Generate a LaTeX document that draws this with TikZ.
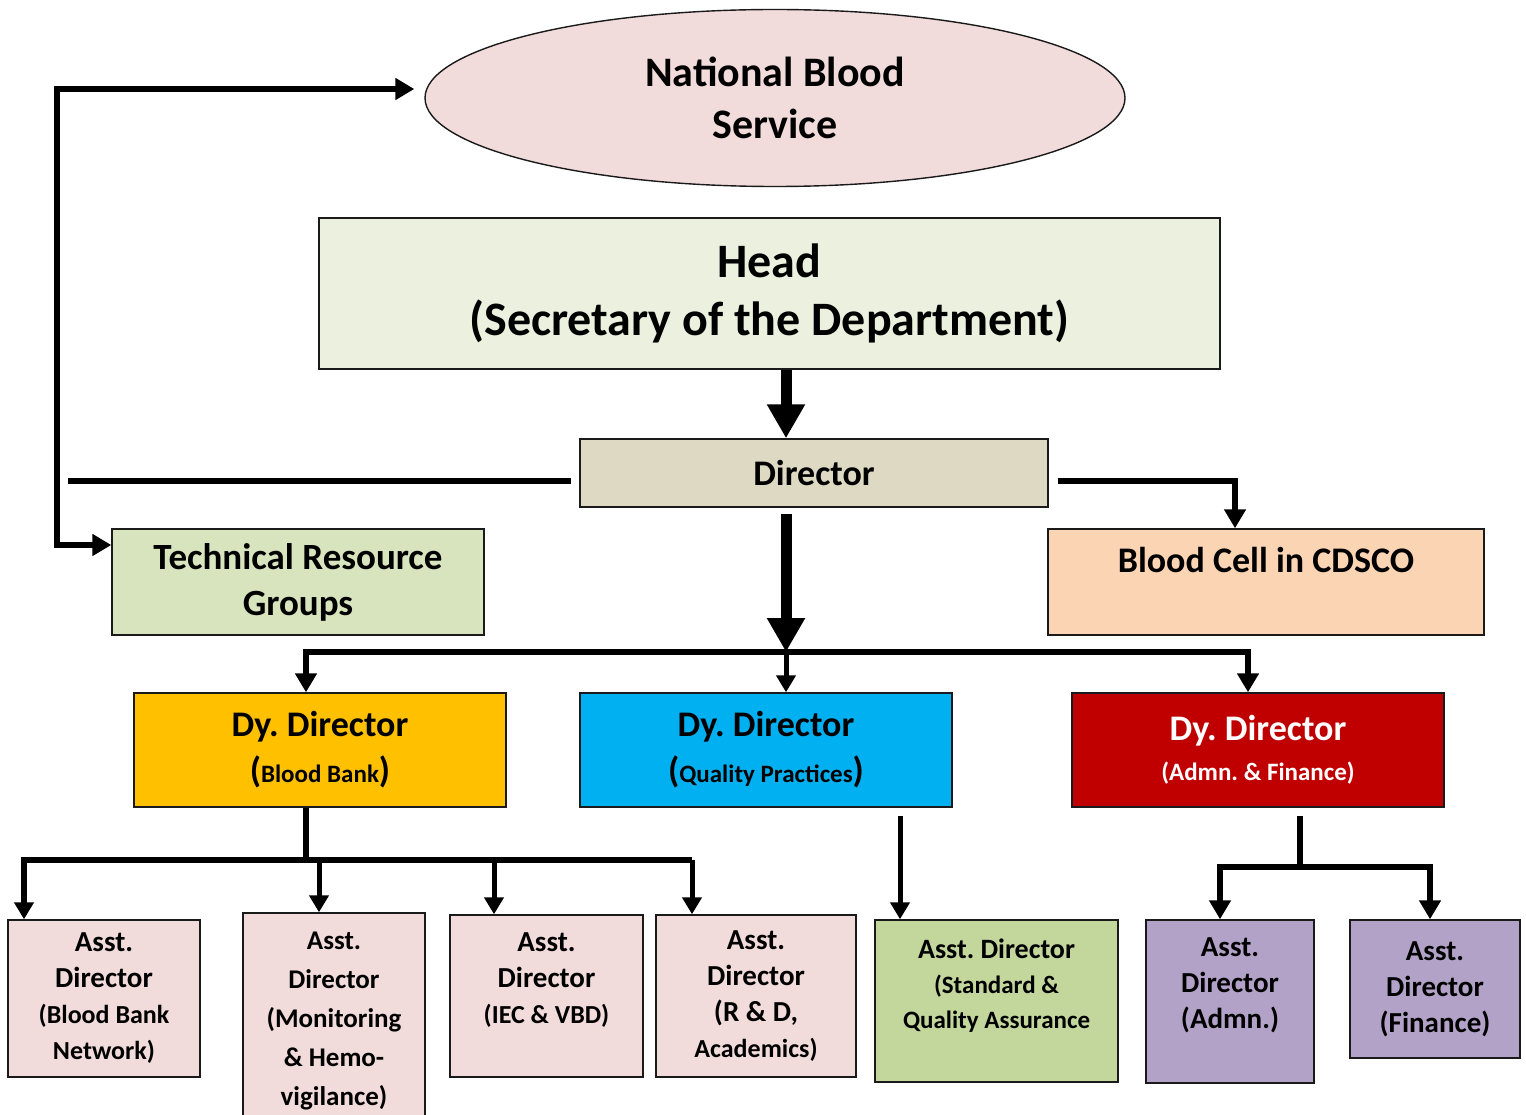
\documentclass[tikz,border=0pt]{standalone}
\usepackage{fontspec}
\setmainfont{Carlito}
\usetikzlibrary{shapes.geometric, arrows.meta}
\definecolor{jet}{HTML}{1A1A1A}
\definecolor{nbs-pink}{HTML}{F2DCDB}
\definecolor{head-green}{HTML}{EBF1DE}
\definecolor{dir-beige}{HTML}{DDD9C3}
\definecolor{trg-green}{HTML}{D7E4BD}
\definecolor{cell-peach}{HTML}{FBD4B4}
\definecolor{dy-amber}{HTML}{FFC000}
\definecolor{dy-cyan}{HTML}{00B0F0}
\definecolor{dy-red}{HTML}{C00000}
\definecolor{sqa-green}{HTML}{C3D69B}
\definecolor{adm-purple}{HTML}{B3A2C7}

\newcommand{\subtxt}[1]{{\fontsize{25}{30}\selectfont #1}}
\frenchspacing

\begin{document}
\begin{tikzpicture}[x=1pt, y=-1pt,
    box/.style={draw=jet, line width=1.4pt, inner sep=0pt, align=center, text=black},
    asst/.style={box, font=\bfseries\fontsize{29}{36}\selectfont},
    dybox/.style={box, minimum width=372, minimum height=114, font=\bfseries\fontsize{36}{46}\selectfont},
    bigtip/.style={line width=11pt, -{Triangle[width=36pt, length=34pt]}},
    tip/.style={line width=5pt, -{Triangle[width=19pt, length=17pt]}},
    bar/.style={line width=6pt},
    both/.style={line width=6pt, {Triangle[width=21pt, length=19pt]}-{Triangle[width=21pt, length=19pt]}}]
    \clip (0,0) rectangle (1526,1115);
    % top of the chart
    \node[draw=jet, line width=1.4pt, ellipse, fill=nbs-pink, minimum width=700, minimum height=177, inner sep=0pt, align=center, font=\bfseries\fontsize{42}{52}\selectfont] (nbs) at (775,98) {National Blood\\Service};
    \node[box, fill=head-green, minimum width=901, minimum height=151, font=\bfseries\fontsize{48}{58}\selectfont] (head) at (769.5,293.5) {Head\\(Secretary of the Department)};
    \node[box, fill=dir-beige, minimum width=468, minimum height=68, font=\bfseries\fontsize{36}{44}\selectfont] (dir) at (814,473) {Director};
    \node[box, fill=trg-green, minimum width=372, minimum height=106, font=\bfseries\fontsize{37}{46}\selectfont] (trg) at (298,582) {Technical Resource\\Groups};
    \node[box, fill=cell-peach, minimum width=436, minimum height=106, font=\bfseries\fontsize{36}{44}\selectfont] (cell) at (1266,582) {Blood Cell in CDSCO\\\mbox{}};
    % deputy directors
    \node[dybox, fill=dy-amber] (dybb) at (320,750) {Dy. Director\\(\subtxt{Blood Bank})};
    \node[dybox, fill=dy-cyan] (dyqp) at (766,750) {Dy. Director\\(\subtxt{Quality Practices})};
    \node[dybox, fill=dy-red, text=white] (dyaf) at (1258,750) {Dy. Director\\[-6pt]\subtxt{(Admn. \& Finance)}};
    % assistant directors
    \node[asst, fill=nbs-pink, minimum width=192, minimum height=157] (a1) at (104,998.5) {Asst.\\Director\\{\fontsize{26}{32}\selectfont(Blood Bank}\\{\fontsize{26}{32}\selectfont Network)}};
    \node[asst, fill=nbs-pink, minimum width=182, minimum height=217, font=\bfseries\fontsize{27}{39}\selectfont] (a2) at (334,1021.5) {Asst.\\Director\\(Monitoring\\\& Hemo-\\vigilance)};
    \node[asst, fill=nbs-pink, minimum width=193, minimum height=162] (a3) at (546.5,996) {Asst.\\Director\\{\fontsize{26}{32}\selectfont(IEC \& VBD)}\\\mbox{}};
    \node[asst, fill=nbs-pink, minimum width=200, minimum height=162] (a4) at (756,996) {Asst.\\Director\\(R \& D,\\{\fontsize{26}{32}\selectfont Academics)}};
    \node[asst, fill=sqa-green, minimum width=243, minimum height=162, font=\bfseries\fontsize{28}{35}\selectfont] (sqa) at (996.5,1001) {Asst. Director\\{\fontsize{25}{33}\selectfont(Standard \&}\\{\fontsize{25}{33}\selectfont Quality Assurance}\\\mbox{}};
    \node[asst, fill=adm-purple, minimum width=168, minimum height=163] (aad) at (1230,1001.5) {Asst.\\Director\\(Admn.)\\\mbox{}};
    \node[asst, fill=adm-purple, minimum width=170, minimum height=138] (afi) at (1435,989) {Asst.\\Director\\(Finance)};
    % junction points
    \coordinate (spine) at (786,652);
    \coordinate (jl) at (306,652);
    \coordinate (jr) at (1248,652);
    \coordinate (lc) at (57,89);
    \coordinate (tl) at (57,545);
    \coordinate (hl) at (68,481);
    \coordinate (hr) at (1235,481);
    \coordinate (jb) at (306,860);
    \coordinate (bl) at (24,860);
    \coordinate (br) at (692,860);
    \coordinate (jq) at (900,815);
    \coordinate (ja) at (1300,867);
    \coordinate (jal) at (1220,867);
    \coordinate (jar) at (1430,867);
    % connectors
    \draw[bigtip] (head.south -| spine) -- (dir.north -| spine);
    \draw[bigtip, shorten <=6pt] (dir.south -| spine) -- (spine);
    \draw[both] (dybb.north -| jl) -- (jl) -- (jr) -- (dyaf.north -| jr);
    \draw[tip] (spine) -- (dyqp.north -| spine);
    \draw[both, shorten <=10pt] (nbs.west |- lc) -- (lc) -- (tl) -- (trg.west |- tl);
    \draw[bar, shorten >=8pt] (hl) -- (dir.west |- hl);
    \draw[bar, -{Triangle[width=21pt, length=19pt]}, shorten <=9pt] (dir.east |- hr) -- (hr) -- (cell.north -| hr);
    \draw[bar] (dybb.south -| jb) -- (jb);
    \draw[bar, -{Triangle[width=19pt, length=17pt]}] (br) -- (bl) -- (a1.north -| bl);
    \foreach \n/\x in {a2/319, a3/494, a4/692} {
        \coordinate (t\n) at (\x,860);
        \draw[tip] (t\n) -- (\n.north -| t\n);
    }
    \draw[tip, shorten <=8pt] (dyqp.south -| jq) -- (sqa.north -| jq);
    \draw[bar, shorten <=8pt] (dyaf.south -| ja) -- (ja);
    \draw[both] (aad.north -| jal) -- (jal) -- (jar) -- (afi.north -| jar);
\end{tikzpicture}
\end{document}
